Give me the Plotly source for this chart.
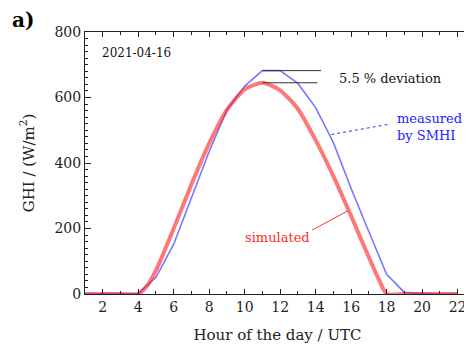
import plotly.graph_objects as go

# ---- data ----
hours = list(range(1, 23))
measured = [0, 0, 0, 2, 51, 152, 294, 435, 562, 635, 682, 682, 643, 569, 462, 322, 190, 60, 5, 1, 0, 0]
sim_hours = [1, 2, 3, 4, 4.5, 5, 6, 7, 8, 9, 10, 11, 12, 13, 14, 15, 16, 17, 17.6, 18, 19, 20, 21, 22]
simulated = [0, 0, 0, 0, 25, 72, 200, 335, 460, 562, 625, 645, 622, 565, 470, 360, 238, 112, 40, 0, 0, 0, 0, 0]
x_ticks = [2, 4, 6, 8, 10, 12, 14, 16, 18, 20, 22]
y_ticks = [0, 200, 400, 600, 800]
date_label = "2021-04-16"
deviation_label = "5.5 % deviation"

FONT = "DejaVu Serif"
RED = "rgba(255,30,30,0.6)"
BLUE = "rgba(30,30,255,0.6)"

fig = go.Figure()
fig.add_trace(go.Scatter(x=hours, y=measured, mode="lines",
                         line=dict(color=BLUE, width=1.6), hoverinfo="skip"))
fig.add_trace(go.Scatter(x=sim_hours, y=simulated, mode="lines",
                         line=dict(color=RED, width=4, shape="spline", smoothing=0.6),
                         hoverinfo="skip"))

m_max = max(measured)
m_arg = hours[measured.index(m_max)]
s_max = max(simulated)
s_arg = sim_hours[simulated.index(s_max)]

# deviation guide lines
fig.add_shape(type="line", x0=m_arg, x1=14.3, y0=m_max, y1=m_max,
              line=dict(color="#333", width=1))
fig.add_shape(type="line", x0=s_arg, x1=14.1, y0=s_max, y1=s_max,
              line=dict(color="#333", width=1))
# pointer lines
fig.add_shape(type="line", x0=14.88, y0=487, x1=18.2, y1=519,
              line=dict(color="#3030ff", width=1, dash="dot"))
fig.add_shape(type="line", x0=13.8, y0=195, x1=15.82, y1=254,
              line=dict(color="#ff3030", width=1))

fig.add_annotation(x=15.2, y=657, text=deviation_label, showarrow=False,
                   xanchor="left", yanchor="middle", font=dict(family=FONT, size=13, color="#111"))
fig.add_annotation(x=18.45, y=510, text="measured<br>by SMHI", showarrow=False, align="left",
                   xanchor="left", yanchor="middle", font=dict(family=FONT, size=13, color="#2222ff"))
fig.add_annotation(x=9.9, y=172, text="simulated", showarrow=False,
                   xanchor="left", yanchor="middle", font=dict(family=FONT, size=13, color="#ff2a2a"))
fig.add_annotation(x=1.85, y=736, text=date_label, showarrow=False,
                   xanchor="left", yanchor="middle", font=dict(family=FONT, size=12, color="#111"))
fig.add_annotation(xref="paper", yref="paper", x=-0.195, y=1.045, text="<b>a)</b>", showarrow=False,
                   xanchor="left", yanchor="middle", font=dict(family=FONT, size=20, color="#000"))

axis_common = dict(showline=True, linecolor="#222", linewidth=1, mirror="ticks",
                   ticks="inside", tickcolor="#222", showgrid=False, zeroline=False,
                   automargin=False,
                   tickfont=dict(family=FONT, size=14, color="#222"))
fig.update_xaxes(range=[1, 22.7], tickvals=x_ticks, ticklen=5,
                 minor=dict(dtick=1, ticks="inside", ticklen=3, tickcolor="#222"),
                 title=dict(text="Hour of the day / UTC", font=dict(family=FONT, size=15, color="#222"),
                            standoff=15),
                 **axis_common)
fig.update_yaxes(range=[0, 800], tickvals=y_ticks, ticklen=6,
                 minor=dict(dtick=20, ticks="inside", ticklen=3, tickcolor="#222"),
                 title=dict(text="GHI / (W/m<sup>2</sup>)", font=dict(family=FONT, size=15, color="#222"),
                            standoff=16),
                 **axis_common)
# page body has an 8px margin, so the figure is sized to fit the 472x347 window
fig.update_layout(width=464, height=339, margin=dict(l=77, r=2, t=24, b=53, autoexpand=False),
                  plot_bgcolor="white", paper_bgcolor="white", showlegend=False)
fig.write_html("out.html")
